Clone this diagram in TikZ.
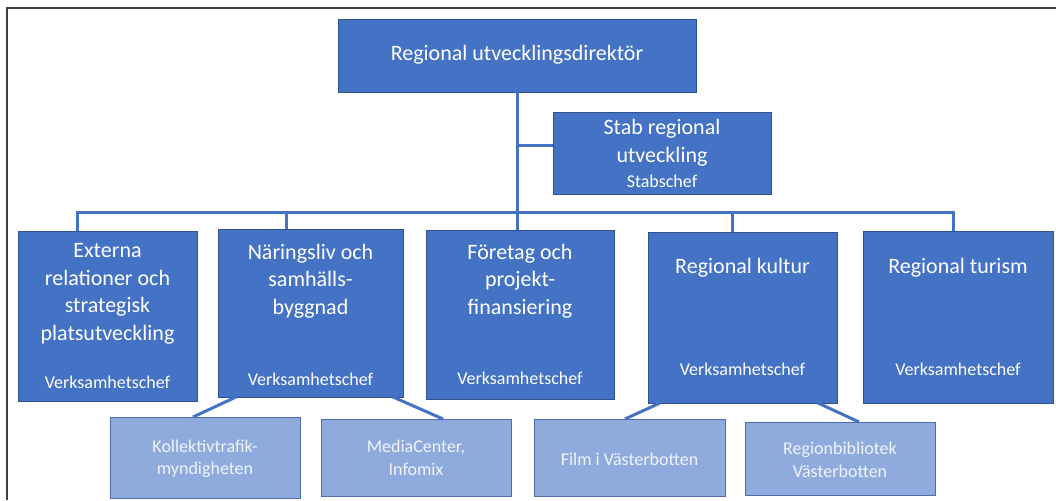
\documentclass[tikz,border=0pt]{standalone}
\usepackage{fontspec}
\setmainfont{Carlito}
\definecolor{accent}{HTML}{4472C4}
\definecolor{edge}{HTML}{2F528F}
\definecolor{light}{HTML}{8FAADC}
\definecolor{liteedge}{HTML}{4E6DAD}
\begin{document}
\begin{tikzpicture}[x=1pt,y=-1pt,
  dark/.style={draw=edge, fill=accent, line width=0.9pt, inner sep=0pt, outer sep=0pt, anchor=north west},
  lite/.style={draw=liteedge, fill=light, line width=0.9pt, inner sep=0pt, outer sep=0pt, anchor=north west},
  wire/.style={draw=accent, line width=3pt},
  big/.style={text=white, font=\fontsize{22}{27.5}\selectfont, align=center, inner sep=0pt},
  small/.style={text=white, font=\fontsize{18}{22.5}\selectfont, align=center, inner sep=0pt},
  tiny/.style={text=white!92!accent, font=\fontsize{18}{22.5}\selectfont, align=center, inner sep=0pt}]
\useasboundingbox (0,0) rectangle (1056,500);
% frame
\draw[black!75, line width=1.5pt] (7,500) -- (7,8) -- (1056,8);
% boxes
\node[dark, minimum width=358pt, minimum height=73pt] (top) at (338,19) {};
\node[dark, minimum width=218pt, minimum height=82pt] (stab) at (553,112) {};
\node[dark, minimum width=179pt, minimum height=170pt] (b1) at (18,231) {};
\node[dark, minimum width=185pt, minimum height=168pt] (b2) at (218,229) {};
\node[dark, minimum width=188pt, minimum height=169pt] (b3) at (426,230) {};
\node[dark, minimum width=189pt, minimum height=171pt] (b4) at (648,232) {};
\node[dark, minimum width=190pt, minimum height=172pt] (b5) at (863,231) {};
\node[lite, minimum width=190pt, minimum height=81pt] (c1) at (110,417) {};
\node[lite, minimum width=190pt, minimum height=77pt] (c2) at (321,419) {};
\node[lite, minimum width=191pt, minimum height=77pt] (c3) at (534,419) {};
\node[lite, minimum width=190pt, minimum height=73pt] (c4) at (745,422) {};
% connector points
\coordinate (hub) at (517,212);
\coordinate (sj) at (517,145);
\coordinate (d1) at (77,212);
\coordinate (d2) at (286,212);
\coordinate (d4) at (732,212);
\coordinate (d5) at (953,212);
\coordinate (s2l) at (236,397);
\coordinate (s2r) at (393,397);
\coordinate (s4l) at (660,403);
\coordinate (s4r) at (818,403);
\coordinate (k1) at (193,417);
\coordinate (k2) at (443,419);
\coordinate (k3) at (625,419);
\coordinate (k4) at (859,422);
% connectors
\draw[wire] (top.south -| hub) -- (hub |- b3.north);
\draw[wire] (sj) -- (sj -| stab.west);
\draw[wire] (d1 |- b1.north) -- (d1) -- (d5) -- (d5 |- b5.north);
\draw[wire] (d2) -- (d2 |- b2.north);
\draw[wire] (d4) -- (d4 |- b4.north);
\draw[wire] (s2l) -- (k1);
\draw[wire] (s2r) -- (k2);
\draw[wire] (s4l) -- (k3);
\draw[wire] (s4r) -- (k4);
% texts
\node[big] (ttop) at (517,55) {Regional utvecklingsdirektör};
\node[big] (tstab) at (662,143) {Stab regional\\utveckling};
\node[small] (tstabc) at (662,181) {Stabschef};
\node[big] (t1) at (107.5,294) {Externa\\relationer och\\strategisk\\platsutveckling};
\node[small] (v1) at (107.5,382) {Verksamhetschef};
\node[big] (t2) at (310.5,281) {Näringsliv och\\samhälls-\\byggnad};
\node[small] (v2) at (310.5,379) {Verksamhetschef};
\node[big] (t3) at (520,281) {Företag och\\projekt-\\finansiering};
\node[small] (v3) at (520,378) {Verksamhetschef};
\node[big] (t4) at (742.5,268) {Regional kultur};
\node[small] (v4) at (742.5,369) {Verksamhetschef};
\node[big] (t5) at (958,268) {Regional turism};
\node[small] (v5) at (958,369) {Verksamhetschef};
\node[tiny] (u1) at (205,459) {Kollektivtrafik-\\myndigheten};
\node[tiny] (u2) at (416,458) {MediaCenter,\\Infomix};
\node[tiny] (u3) at (629.5,459) {Film i Västerbotten};
\node[tiny] (u4) at (840,460) {Regionbibliotek\\Västerbotten};
\end{tikzpicture}
\end{document}
